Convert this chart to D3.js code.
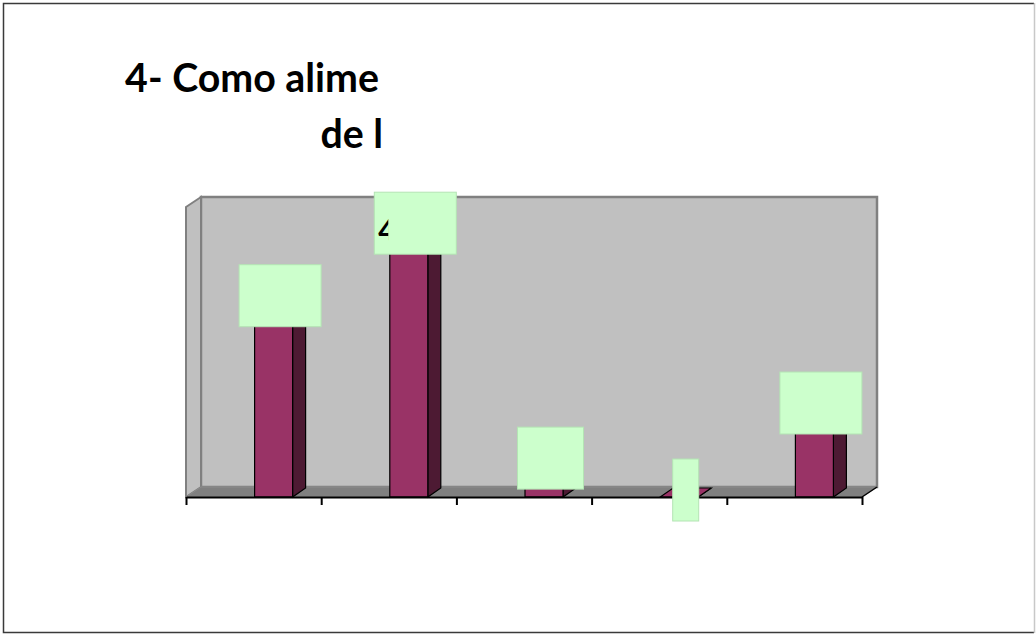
<!DOCTYPE html>
<html>
<head>
<meta charset="utf-8">
<script src="https://cdn.jsdelivr.net/npm/d3@7"></script>
<style>
  html, body { margin: 0; padding: 0; background: #ffffff; }
  svg { display: block; }
</style>
</head>
<body>
<svg id="chart" width="1036" height="634"></svg>
<script>
// Answer categories (the axis shows no category names)
const categories = ["a", "b", "c", "d", "e"];
// Share of answers per category, in percent
const values = [33.5, 46, 5.5, 0, 15];
// Data label texts
const valueLabels = ["33,5%", "46%", "5,5%", "0%", "15%"];
// Title lines, as printed
const titleLines = ["4- Como alime", "de l"];
// Value axis range
const valueDomain = [0, 50];

const svg = d3.select("#chart");

// Plot geometry (front plane of the 3D box)
const plot = { left: 186, right: 862, bottom: 497, top: 207 };
const depth = { dx: 15, dy: -10 };     // depth of walls / floor
const barDepth = { dx: 13, dy: -9 };   // depth of each column
const barWidth = 38;
const barShift = 20;

const x = d3.scaleBand().domain(categories).range([plot.left, plot.right]).paddingInner(0).paddingOuter(0);
const y = d3.scaleLinear().domain(valueDomain).range([plot.bottom, plot.top]);
const tickScale = d3.scaleLinear().domain([0, categories.length]).range([plot.left, plot.right]);

const poly = pts => pts.map(p => p.join(",")).join(" ");

// Back wall
svg.append("rect")
  .attr("x", plot.left + depth.dx)
  .attr("y", plot.top + depth.dy)
  .attr("width", plot.right - plot.left)
  .attr("height", plot.bottom - plot.top)
  .attr("fill", "#c0c0c0")
  .attr("stroke", "#808080")
  .attr("stroke-width", 2.5);

// Side wall
svg.append("polygon")
  .attr("points", poly([
    [plot.left, plot.top],
    [plot.left + depth.dx, plot.top + depth.dy],
    [plot.left + depth.dx, plot.bottom + depth.dy],
    [plot.left, plot.bottom]
  ]))
  .attr("fill", "#c0c0c0")
  .attr("stroke", "#808080")
  .attr("stroke-width", 2);

// Floor
svg.append("polygon")
  .attr("points", poly([
    [plot.left, plot.bottom],
    [plot.left + depth.dx, plot.bottom + depth.dy],
    [plot.right + depth.dx, plot.bottom + depth.dy],
    [plot.right, plot.bottom]
  ]))
  .attr("fill", "#808080")
  .attr("stroke", "#8c8c8c")
  .attr("stroke-width", 1);

svg.append("line")
  .attr("x1", plot.right).attr("y1", plot.bottom)
  .attr("x2", plot.right + depth.dx).attr("y2", plot.bottom + depth.dy)
  .attr("stroke", "#000").attr("stroke-width", 1.5);

// Columns
const data = categories.map((c, i) => ({ c, v: values[i], label: valueLabels[i], i }));
const bars = svg.append("g").attr("class", "bars");

data.forEach(d => {
  const x0 = x(d.c) + x.bandwidth() / 2 + barShift - barWidth / 2;
  const x1 = x0 + barWidth;
  const yt = y(d.v);
  const yb = y(0);
  const g = bars.append("g");
  // right side face
  g.append("polygon")
    .attr("points", poly([[x1, yt], [x1 + barDepth.dx, yt + barDepth.dy], [x1 + barDepth.dx, yb + barDepth.dy], [x1, yb]]))
    .attr("fill", "#4d1a33").attr("stroke", "#000").attr("stroke-width", 1.2);
  // top face
  g.append("polygon")
    .attr("points", poly([[x0, yt], [x0 + barDepth.dx, yt + barDepth.dy], [x1 + barDepth.dx, yt + barDepth.dy], [x1, yt]]))
    .attr("fill", "#993366").attr("stroke", "#000").attr("stroke-width", 1.2);
  // front face
  if (yb - yt > 0) {
    g.append("rect")
      .attr("x", x0).attr("y", yt)
      .attr("width", barWidth).attr("height", yb - yt)
      .attr("fill", "#993366").attr("stroke", "#000").attr("stroke-width", 1.2);
  }
});

// Category axis
const axis = d3.axisBottom(tickScale)
  .tickValues(d3.range(categories.length + 1))
  .tickFormat("")
  .tickSizeInner(8)
  .tickSizeOuter(0);
const axisG = svg.append("g")
  .attr("transform", `translate(0,${plot.bottom})`)
  .call(axis);
axisG.select(".domain").attr("stroke", "#000").attr("stroke-width", 2);
axisG.selectAll(".tick line").attr("stroke", "#000").attr("stroke-width", 2);

// Data label boxes
const boxWidthFor = v => (v === 0 ? 26 : v < 10 ? 66 : 82);
const boxHeight = 62;
const labels = svg.append("g").attr("class", "labels");
data.forEach(d => {
  const x0 = x(d.c) + x.bandwidth() / 2 + barShift - barWidth / 2;
  const cx = x0 + barWidth / 2 + barDepth.dx / 2;
  const cy = y(d.v) - 7;
  const w = boxWidthFor(d.v);
  const g = labels.append("g");
  g.append("rect")
    .attr("x", cx - w / 2).attr("y", cy - boxHeight / 2)
    .attr("width", w).attr("height", boxHeight)
    .attr("fill", "#ccffcc")
    .attr("stroke", "#b4e4b4").attr("stroke-width", 1);
  // label text, only a sliver of it shows inside the box window
  const clipId = "lbl" + d.i;
  const bx = cx - w / 2;
  g.append("clipPath").attr("id", clipId)
    .append("rect")
    .attr("x", bx + 1).attr("y", cy - 5)
    .attr("width", d.i === 1 ? 13 : 0).attr("height", 22);
  g.append("text")
    .attr("clip-path", `url(#${clipId})`)
    .attr("x", bx + 4).attr("y", cy + 18)
    .attr("font-family", "Lato, 'Open Sans', sans-serif")
    .attr("font-weight", "bold")
    .attr("font-size", 30)
    .attr("fill", "#000")
    .text(d.label);
});

// Title
const title = svg.append("g").attr("class", "title");
const titleRight = 379;
const t1 = title.append("text")
  .attr("x", titleRight).attr("y", 92)
  .attr("text-anchor", "end")
  .attr("font-family", "Lato, 'Open Sans', sans-serif")
  .attr("font-weight", "bold")
  .attr("font-size", 36)
  .attr("fill", "#000")
  .text(titleLines[0]);
// size the title so the first line spans its column
const targetWidth = 254;
const fs = 36 * targetWidth / t1.node().getComputedTextLength();
t1.attr("font-size", fs);
title.append("text")
  .attr("x", titleRight + 4).attr("y", 148)
  .attr("text-anchor", "end")
  .attr("font-family", "Lato, 'Open Sans', sans-serif")
  .attr("font-weight", "bold")
  .attr("font-size", fs)
  .attr("fill", "#000")
  .text(titleLines[1]);

// Chart frame
svg.append("path")
  .attr("d", "M1034,632.5 H3.5 V3.5 H1034")
  .attr("fill", "none").attr("stroke", "#3a3a3a").attr("stroke-width", 1.5);
svg.append("line")
  .attr("x1", 1034.5).attr("y1", 3).attr("x2", 1034.5).attr("y2", 633)
  .attr("stroke", "#c8c8c8").attr("stroke-width", 1.5);
</script>
</body>
</html>
